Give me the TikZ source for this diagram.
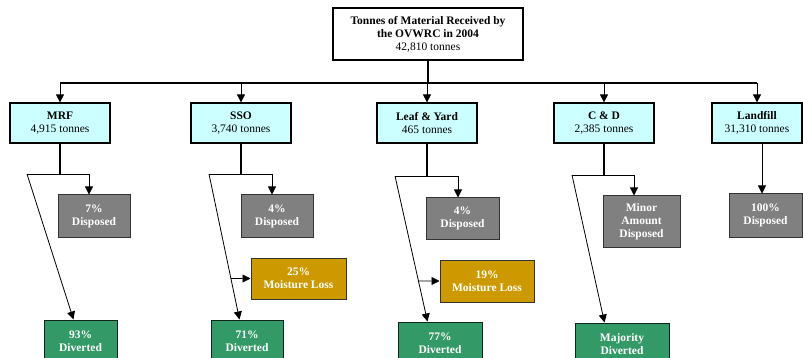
\documentclass[tikz,border=0pt]{standalone}
\usepackage{fontspec}
\setmainfont{Liberation Serif}
\usetikzlibrary{arrows.meta,calc}
\definecolor{boxcyan}{HTML}{CCFFFF}
\definecolor{boxgray}{HTML}{808080}
\definecolor{boxgold}{HTML}{CC9900}
\definecolor{boxgreen}{HTML}{339966}
\begin{document}
\begin{tikzpicture}[x=1pt,y=-1pt,
  every node/.style={font=\fontsize{11.5}{13}\selectfont, inner sep=0pt, align=center},
  topbox/.style={draw=black, line width=1.2pt, fill=white, minimum width=190pt, minimum height=52pt},
  catbox/.style={draw=black, line width=1.2pt, fill=boxcyan, minimum width=100pt, minimum height=40pt},
  outbox/.style={draw=black!80, line width=1pt, text=white, font=\fontsize{11.5}{13}\selectfont\bfseries},
  dispbox/.style={outbox, fill=boxgray},
  moistbox/.style={outbox, fill=boxgold},
  divbox/.style={outbox, fill=boxgreen, draw=black!75!boxgreen},
  thickline/.style={line width=1.8pt},
  thinline/.style={line width=0.8pt},
  arr/.style={line width=0.8pt, -{Triangle[length=8pt,width=8pt]}}
]
\useasboundingbox (0,0) rectangle (803,358);

% top
\node[topbox] (top) at (428,34) {\textbf{Tonnes of Material Received by}\\\textbf{the OVWRC in 2004}\\42,810 tonnes};

% categories
\node[catbox] (mrf) at (60,123) {\textbf{MRF}\\4,915 tonnes};
\node[catbox] (sso) at (241,123) {\textbf{SSO}\\3,740 tonnes};
\node[catbox] (leaf) at (427,123) {\textbf{Leaf \& Yard}\\465 tonnes};
\node[catbox] (cd) at (604,123) {\textbf{C \& D}\\2,385 tonnes};
\node[catbox, minimum width=90pt] (land) at (757,123) {\textbf{Landfill}\\31,310 tonnes};

% bus
\coordinate (busL) at (mrf.north |- 0,83);
\coordinate (busR) at (land.north |- 0,83);
\draw[thickline] (top.south) -- (top.south |- busL);
\draw[thickline] (busL) -- (busR);
\foreach \n in {mrf,sso,leaf,cd,land}
  \draw[arr] (\n.north |- busL) -- (\n.north);

% outcome boxes
\node[dispbox, minimum width=72pt, minimum height=42pt] (mrfdisp) at (94,216) {7\%\\Disposed};
\node[divbox, minimum width=73pt, minimum height=42pt] (mrfdiv) at (80.5,341) {93\%\\Diverted};

\node[dispbox, minimum width=72pt, minimum height=42pt] (ssodisp) at (277,216) {4\%\\Disposed};
\node[moistbox, minimum width=95pt, minimum height=41pt] (ssomoist) at (298.5,278.5) {25\%\\Moisture Loss};
\node[divbox, minimum width=72pt, minimum height=42pt] (ssodiv) at (247,341) {71\%\\Diverted};

\node[dispbox, minimum width=73pt, minimum height=41pt] (leafdisp) at (462.5,218.5) {4\%\\Disposed};
\node[moistbox, minimum width=94pt, minimum height=42pt] (leafmoist) at (487,281) {19\%\\Moisture Loss};
\node[divbox, minimum width=84pt, minimum height=42pt] (leafdiv) at (440,343) {77\%\\Diverted};

\node[dispbox, minimum width=77pt, minimum height=51pt] (cddisp) at (641.5,221.5) {Minor\\Amount\\Disposed};
\node[divbox, minimum width=94pt, minimum height=42pt] (cddiv) at (622,344) {Majority\\Diverted};

\node[dispbox, minimum width=73pt, minimum height=43pt] (landdisp) at (765.5,215.5) {100\%\\Disposed};

% MRF branch
\coordinate (mrfL) at (27,174);
\coordinate (mrfR) at (89,174);
\coordinate (mrftip) at ($(mrfdiv.north west)+(30,0)$);
\draw[thickline] (mrf.south) -- (mrf.south |- mrfL);
\draw[thinline] (mrfL) -- (mrfR);
\draw[arr] (mrfR) -- (mrfR |- mrfdisp.north);
\draw[arr] (mrfL) -- (mrftip);

% SSO branch
\coordinate (ssoL) at (209,174);
\coordinate (ssoR) at (272,174);
\coordinate (ssotip) at ($(ssodiv.north west)+(29,0)$);
\draw[thickline] (sso.south) -- (sso.south |- ssoL);
\draw[thinline] (ssoL) -- (ssoR);
\draw[arr] (ssoR) -- (ssoR |- ssodisp.north);
\draw[arr] (ssoL) -- (ssotip);
\draw[arr] (intersection of ssoL--ssotip and ssomoist.west--ssomoist.east) -- (ssomoist.west);

% Leaf branch
\coordinate (leafL) at (395,176);
\coordinate (leafR) at (458,176);
\coordinate (leaftip) at ($(leafdiv.north west)+(30,0)$);
\draw[thickline] (leaf.south) -- (leaf.south |- leafL);
\draw[thinline] (leafL) -- (leafR);
\draw[arr] (leafR) -- (leafR |- leafdisp.north);
\draw[arr] (leafL) -- (leaftip);
\draw[arr] (intersection of leafL--leaftip and leafmoist.west--leafmoist.east) -- (leafmoist.west);

% C&D branch
\coordinate (cdL) at (572,175);
\coordinate (cdR) at (634,175);
\coordinate (cdtip) at ($(cddiv.north west)+(30,0)$);
\draw[thickline] (cd.south) -- (cd.south |- cdL);
\draw[thinline] (cdL) -- (cdR);
\draw[arr] (cdR) -- (cdR |- cddisp.north);
\draw[arr] (cdL) -- (cdtip);

% Landfill branch
\draw[arr] ([xshift=5pt]land.south) -- ([xshift=5pt]land.south |- landdisp.north);
\end{tikzpicture}
\end{document}
